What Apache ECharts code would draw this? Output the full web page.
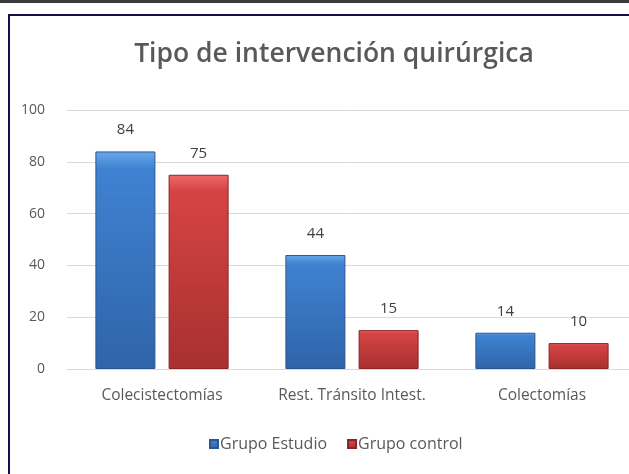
<!DOCTYPE html>
<html>
<head>
<meta charset="utf-8">
<script src="https://cdn.jsdelivr.net/npm/echarts@6/dist/echarts.min.js"></script>
<style>
html,body{margin:0;padding:0;background:#fff;}
#c{width:629px;height:474px;}
</style>
</head>
<body>
<div id="c"></div>
<script>
const categories = ['Colecistectomías', 'Rest. Tránsito Intest.', 'Colectomías'];
const grupoEstudio = [84, 44, 14];
const grupoControl = [75, 15, 10];
const seriesNames = ['Grupo Estudio', 'Grupo control'];
const yTicks = { min: 0, max: 100, interval: 20 };

const font = '"Open Sans", sans-serif';
const chart = echarts.init(document.getElementById('c'), null, { renderer: 'canvas' });

function grad(top, mid, bottom) {
  return new echarts.graphic.LinearGradient(0, 0, 0, 1, [
    { offset: 0, color: top },
    { offset: 0.08, color: mid },
    { offset: 1, color: bottom }
  ]);
}

chart.setOption({
  animation: false,
  backgroundColor: '#ffffff',
  title: {
    text: 'Tipo de intervención quirúrgica',
    left: 329, top: 36, textAlign: 'center',
    textStyle: { fontFamily: font, fontSize: 26.5, fontWeight: 600, color: '#595959' }
  },
  legend: {
    data: seriesNames,
    left: 204, top: 431,
    itemWidth: 8, itemHeight: 8, itemGap: 20,
    icon: 'rect',
    textStyle: { fontFamily: font, fontSize: 16, color: '#595959', padding: [0, 0, 0, -3] }
  },
  grid: { left: 67, top: 110, height: 259, width: 570, containLabel: false, outerBoundsMode: 'none' },
  xAxis: {
    type: 'category', data: categories,
    axisLine: { lineStyle: { color: '#d9d9d9', width: 1 } },
    axisTick: { show: false },
    axisLabel: { interval: 0, hideOverlap: false, fontFamily: font, fontSize: 15.5, color: '#595959', margin: 19 }
  },
  yAxis: {
    type: 'value', min: yTicks.min, max: yTicks.max, interval: yTicks.interval,
    axisLine: { show: false }, axisTick: { show: false },
    splitLine: { lineStyle: { color: '#d9d9d9', width: 1 } },
    axisLabel: { fontFamily: font, fontSize: 14, color: '#595959', margin: 22 }
  },
  series: [
    {
      name: seriesNames[0], type: 'bar', data: grupoEstudio,
      barWidth: 60, barGap: '22%',
      itemStyle: { color: grad('#6aa8ea', '#3f82d2', '#2f64a8'), borderColor: '#2a5590', borderWidth: 1 },
      label: { show: true, position: 'top', distance: 14, fontFamily: font, fontSize: 15, color: '#404040' }
    },
    {
      name: seriesNames[1], type: 'bar', data: grupoControl,
      barWidth: 60,
      itemStyle: { color: grad('#ec6a6a', '#d64444', '#a83030'), borderColor: '#8a2424', borderWidth: 1 },
      label: { show: true, position: 'top', distance: 14, fontFamily: font, fontSize: 15, color: '#404040' }
    }
  ],
  graphic: [
    { type: 'rect', left: 0, top: 0, shape: { width: 629, height: 3 }, style: { fill: '#3a3a3a' }, silent: true },
    { type: 'rect', left: 8, top: 14, shape: { width: 621, height: 2 }, style: { fill: '#10104a' }, silent: true },
    { type: 'rect', left: 8, top: 14, shape: { width: 2, height: 460 }, style: { fill: '#10104a' }, silent: true }
  ]
});
</script>
</body>
</html>
